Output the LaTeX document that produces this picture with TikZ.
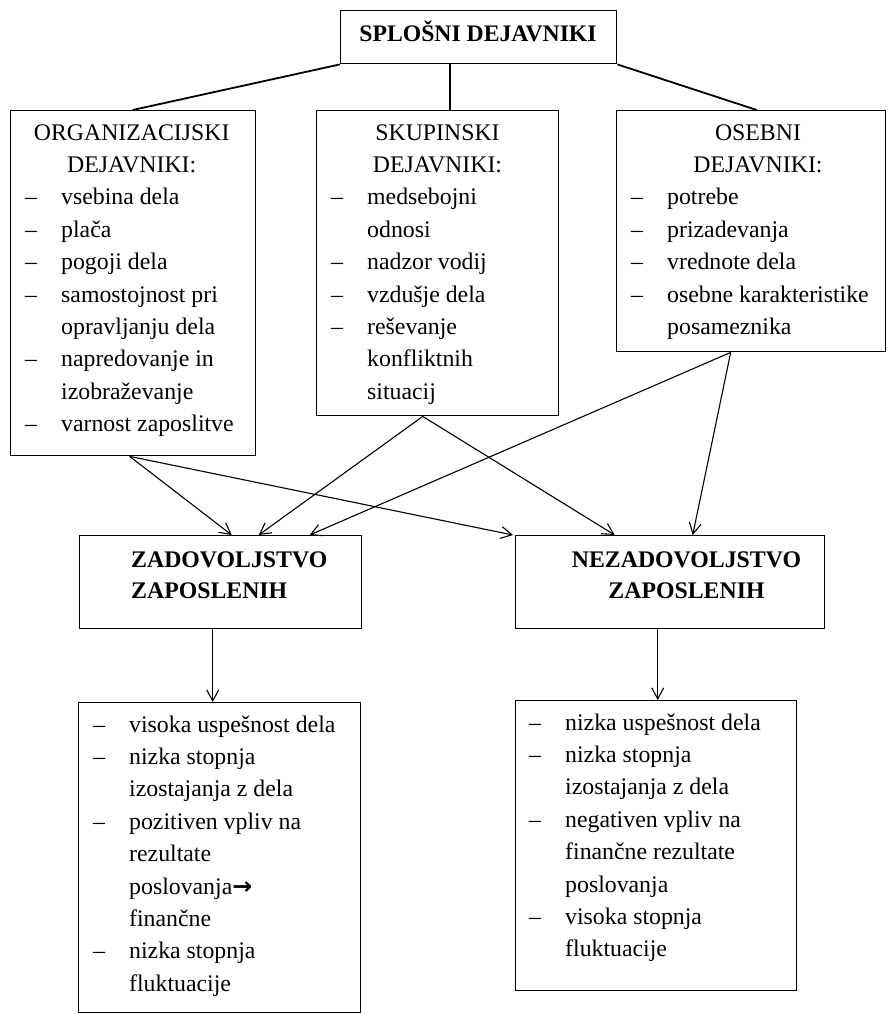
\documentclass[tikz,border=0pt]{standalone}
\usepackage{fontspec}
\setmainfont{Liberation Serif}
\newfontfamily\symfont{DejaVu Sans}
\usetikzlibrary{arrows.meta}
\newcommand{\itemdash}{\makebox[36pt][l]{--}}
\newcommand{\itemgap}{\hspace*{36pt}}
\newcommand{\txtblk}[2]{\parbox[t]{#1}{\fontsize{23.8}{32.4}\selectfont\raggedright #2}}
\newcommand{\hdblk}[2]{\parbox[t]{#1}{\fontsize{23.8}{32.4}\selectfont\centering #2}}
\newcommand{\bfblk}[2]{\parbox[t]{#1}{\fontsize{23.8}{31}\selectfont\bfseries #2}}
\tikzset{
  box/.style={draw, line width=1.4pt, anchor=north west, inner sep=0pt},
  txt/.style={anchor=base west, inner sep=0pt},
  hd/.style={anchor=base, inner sep=0pt},
  link/.style={line width=1.8pt},
  arr/.style={line width=1.1pt, -{Straight Barb[length=11pt,width=12pt]}},
}
\begin{document}
\begin{tikzpicture}[x=1pt,y=-1pt]
\useasboundingbox (0,0) rectangle (888,1014);
% boxes
\node[box, minimum width=276pt, minimum height=53pt] (top) at (340,10) {};
\node[box, minimum width=245pt, minimum height=345pt] (org) at (10,110) {};
\node[box, minimum width=242pt, minimum height=305pt] (mid) at (316,110) {};
\node[box, minimum width=269pt, minimum height=241pt] (osb) at (616,110) {};
\node[box, minimum width=282pt, minimum height=93pt] (zad) at (79,535) {};
\node[box, minimum width=309pt, minimum height=93pt] (nez) at (515,535) {};
\node[box, minimum width=282pt, minimum height=310pt] (res1) at (78,702) {};
\node[box, minimum width=281pt, minimum height=290pt] (res2) at (515,700) {};
% texts
\node[hd, font=\fontsize{23.7}{28}\selectfont\bfseries] (titl) at (478,42) {SPLOŠNI DEJAVNIKI};
\node[hd] (orgh) at (131.7,140) {\hdblk{240pt}{ORGANIZACIJSKI\\DEJAVNIKI:}};
\node[hd] (midh) at (437.5,140) {\hdblk{240pt}{SKUPINSKI\\DEJAVNIKI:}};
\node[hd] (osbh) at (758,140) {\hdblk{240pt}{OSEBNI\\DEJAVNIKI:}};
\node[txt] (orgl) at (25,204.8) {\txtblk{228pt}{%
\itemdash vsebina dela\\
\itemdash plača\\
\itemdash pogoji dela\\
\itemdash samostojnost pri\\
\itemgap opravljanju dela\\
\itemdash napredovanje in\\
\itemgap izobraževanje\\
\itemdash varnost zaposlitve}};
\node[txt] (midl) at (331,204.8) {\txtblk{225pt}{%
\itemdash medsebojni\\
\itemgap odnosi\\
\itemdash nadzor vodij\\
\itemdash vzdušje dela\\
\itemdash reševanje\\
\itemgap konfliktnih\\
\itemgap situacij}};
\node[txt] (osbl) at (631,204.8) {\txtblk{250pt}{%
\itemdash potrebe\\
\itemdash prizadevanja\\
\itemdash vrednote dela\\
\itemdash osebne karakteristike\\
\itemgap posameznika}};
\node[txt] (zadt) at (131,567) {\bfblk{225pt}{ZADOVOLJSTVO\\ZAPOSLENIH}};
\node[hd] (nezt) at (686.5,567) {\bfblk{280pt}{\centering NEZADOVOLJSTVO\\ZAPOSLENIH}};
\node[txt] (res1l) at (93,732) {\txtblk{262pt}{%
\itemdash visoka uspešnost dela\\
\itemdash nizka stopnja\\
\itemgap izostajanja z dela\\
\itemdash pozitiven vpliv na\\
\itemgap rezultate\\
\itemgap poslovanja{\symfont\bfseries →}\\
\itemgap finančne\\
\itemdash nizka stopnja\\
\itemgap fluktuacije}};
\node[txt] (res2l) at (529,730) {\txtblk{262pt}{%
\itemdash nizka uspešnost dela\\
\itemdash nizka stopnja\\
\itemgap izostajanja z dela\\
\itemdash negativen vpliv na\\
\itemgap finančne rezultate\\
\itemgap poslovanja\\
\itemdash visoka stopnja\\
\itemgap fluktuacije}};
% connectors from top
\draw[link] (top.south west) -- ([xshift=-0.5pt]org.north);
\draw[link] ([xshift=-29pt]top.south) -- ([xshift=-29pt]top.south |- mid.north);
\draw[link] (top.south east) -- ([xshift=5.5pt]osb.north);
% arrow origins
\coordinate (orgo) at ([xshift=-3.5pt]org.south);
\coordinate (mido) at ([xshift=-15pt]mid.south);
\coordinate (osbo) at ([xshift=-20.5pt]osb.south);
\draw[arr] (orgo) -- ([xshift=11pt]zad.north);
\draw[arr] (orgo) -- ([xshift=-2pt]nez.north west);
\draw[arr] (mido) -- ([xshift=38pt]zad.north);
\draw[arr] (mido) -- ([xshift=-55.5pt]nez.north);
\draw[arr] (osbo) -- ([xshift=89pt]zad.north);
\draw[arr] (osbo) -- ([xshift=22.5pt]nez.north);
\draw[arr] ([xshift=-8pt]zad.south) -- ([xshift=-8pt]zad.south |- res1.north);
\draw[arr] ([xshift=-12.5pt]nez.south) -- ([xshift=-12.5pt]nez.south |- res2.north);
\end{tikzpicture}
\end{document}
